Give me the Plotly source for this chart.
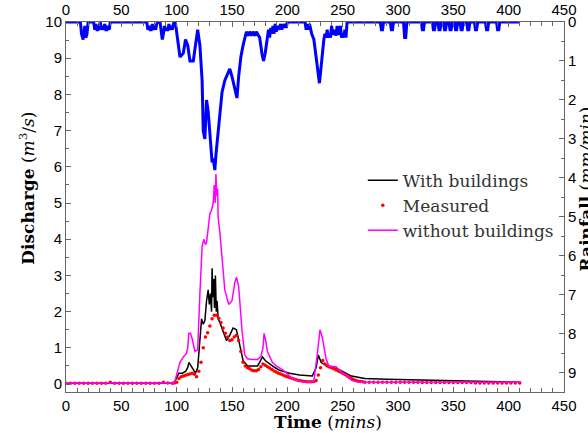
import plotly.graph_objects as go

# ---------------- data ----------------
# Rainfall hyetograph (mm/min), plotted on the reversed right axis
rain_t = [0, 13, 14, 15.5, 17, 18, 19, 20, 25, 26, 27, 28, 29, 30, 31, 32, 33, 34, 35, 36, 37, 38, 39, 40,
          73, 74, 75, 76, 77, 78, 79, 80, 81, 82, 83, 85, 86, 87, 88, 89, 90, 92, 93, 94, 95, 96, 97, 98,
          99, 101, 103, 106, 108, 110, 112, 115, 117, 119, 121, 123, 124, 125.5, 127, 128.5, 130, 132, 133,
          134.5, 135.5, 137, 139, 141, 143.5, 146, 148, 150, 152.5, 154.5, 156, 158, 160, 163, 165, 166, 168,
          169, 171, 172, 174, 175, 177, 178.5, 180, 182, 183, 184, 185, 186, 187, 188, 189, 190, 191, 192,
          194, 195, 196, 197, 198, 199, 200, 216, 217, 218, 219, 220, 222, 224, 226, 228, 229, 230, 231.5,
          233, 234, 235, 236, 237, 238, 239, 240, 241, 242, 243, 244, 245, 246, 247, 248, 249, 250, 251,
          252, 253, 254, 284, 285, 286, 287, 293, 294, 295, 296, 305, 306, 307, 308, 321, 322, 323, 324,
          331, 332, 333, 334, 336, 337, 338, 339, 341, 342, 343, 344, 346, 347, 348, 349, 351, 352, 353, 354,
          356, 357, 358, 359, 362, 363, 364, 365, 369, 370, 371, 372, 379, 380, 381, 382, 389, 390, 391, 392, 410]
rain_mm = [0, 0, 0.3, 0.45, 0.1, 0.4, 0.3, 0, 0, 0.2, 0.05, 0.2, 0.2, 0.05, 0, 0.2, 0.1, 0.2, 0.05, 0.2, 0.2, 0.1, 0.2, 0,
           0, 0.2, 0.1, 0.2, 0.2, 0.05, 0.2, 0.1, 0.2, 0.05, 0, 0, 0.2, 0.45, 0.3, 0.1, 0.2, 0.2, 0.05, 0.2, 0.1, 0.2, 0.05, 0,
           0.05, 0.5, 0.9, 0.8, 0.45, 0.6, 1.0, 1.0, 0.6, 0.2, 0.6, 1.5, 2.8, 3.0, 2.0, 2.3, 2.85, 3.6, 3.5,
           3.8, 3.4, 3.0, 2.3, 1.8, 1.5, 1.35, 1.2, 1.4, 1.7, 1.95, 1.4, 0.9, 0.6, 0.25, 0.35, 0.25, 0.35,
           0.25, 0.35, 0.25, 0.35, 0.4, 0.8, 1.0, 0.8, 0.3, 0.2, 0.4, 0.15, 0.3, 0.1, 0.3, 0.05, 0.25, 0.1, 0.2,
           0.05, 0.2, 0.05, 0.15, 0.05, 0.15, 0, 0, 0.2, 0.05, 0.2, 0.05, 0.3, 0.45, 0.9, 1.2, 1.57, 1.3, 0.8,
           0.45, 0.3, 0.4, 0.2, 0.4, 0.3, 0.4, 0.1, 0.3, 0.3, 0.2, 0.35, 0.1, 0.3, 0.3, 0.1, 0.4, 0.3, 0.4,
           0.2, 0.4, 0, 0, 0.2, 0.2, 0, 0, 0.2, 0.2, 0, 0, 0.4, 0.4, 0, 0, 0.2, 0.2, 0,
           0, 0.2, 0.2, 0, 0, 0.2, 0.2, 0, 0, 0.2, 0.2, 0, 0, 0.2, 0.2, 0, 0, 0.2, 0.2, 0,
           0, 0.2, 0.2, 0, 0, 0.2, 0.2, 0, 0, 0.2, 0.2, 0, 0, 0.2, 0.2, 0, 0, 0.2, 0.2, 0, 0]

# Simulated discharge with buildings (m3/s)
with_t = [0, 95, 98, 100, 102, 105, 108, 110, 111, 113, 115, 117, 119, 121, 122.5, 124, 125.5, 127, 128.5,
          129.5, 130.5, 131.5, 132, 132.8, 133.5, 134.2, 135, 135.8, 136.5, 137.5, 139, 142, 145, 148, 151,
          154, 157, 160, 164, 168, 173, 175, 177.5, 180, 184, 188, 193, 202, 211, 218, 222.5, 226, 228,
          230.5, 233, 237.5, 246.5, 258, 270, 290, 312, 340, 372, 411]
with_q = [0.02, 0.02, 0.05, 0.2, 0.3, 0.3, 0.35, 0.45, 0.6, 0.5, 0.4, 0.3, 0.45, 1.2, 1.8, 1.65, 1.75, 2.3, 2.6,
          2.2, 2.5, 2.0, 3.2, 2.4, 2.9, 2.1, 3.0, 2.0, 2.3, 1.8, 1.7, 1.45, 1.2, 1.35, 1.55,
          1.5, 1.1, 0.65, 0.5, 0.5, 0.5, 0.6, 0.75, 0.65, 0.55, 0.47, 0.38, 0.3, 0.25, 0.22, 0.22, 0.45, 0.8,
          0.6, 0.55, 0.5, 0.4, 0.22, 0.15, 0.13, 0.12, 0.1, 0.08, 0.05]

# Simulated discharge without buildings (m3/s)
without_t = [0, 97, 98.6, 101, 103, 106, 109, 110, 111, 112.5, 114, 116.5, 119, 121, 123, 124.5, 126, 127,
             128.5, 130, 131.5, 133, 134, 134.8, 135.5, 136.2, 137, 137.5, 139, 141, 143.5, 147, 150, 152.5,
             154, 156, 159, 161.5, 164, 168, 173, 176, 178, 179, 180.5, 182, 186.5, 190, 195.5, 200, 204.5,
             211, 216, 222, 224, 227, 229.5, 231.5, 233, 235, 237.5, 242, 244, 246.5, 250, 253, 258, 265,
             300, 350, 411]
without_q = [0.03, 0.03, 0.1, 0.4, 0.6, 0.75, 0.85, 1.0, 1.4, 1.4, 1.25, 0.9, 0.95, 2.5, 3.8, 4.0, 3.85, 3.9,
             4.4, 4.7, 4.8, 5.0, 5.5, 5.0, 5.8, 5.2, 5.4, 4.6, 4.2, 3.5, 2.6, 2.2, 2.3, 2.8,
             2.95, 2.7, 1.5, 0.8, 0.7, 0.68, 0.68, 0.75, 1.0, 1.4, 1.2, 0.9, 0.6, 0.5, 0.4, 0.28, 0.15,
             0.08, 0.05, 0.05, 0.1, 0.8, 1.5, 1.3, 1.0, 0.7, 0.5, 0.5, 0.48, 0.4, 0.3, 0.25, 0.1, 0.05,
             0.05, 0.05, 0.05]

# Measured discharge (m3/s)
meas_t = [0, 4, 8, 12, 16, 20, 24, 28, 32, 36, 40, 44, 48, 52, 56, 60, 64, 68, 72, 76, 80, 84, 88, 92,
          96, 98, 100, 102, 104, 106, 108, 110, 112, 114, 116, 118, 120, 122, 124, 126, 128, 130, 132, 134,
          136, 138, 140, 142, 144, 146, 148, 150, 152, 154, 156, 158, 160, 162, 164, 166, 168, 170, 172,
          174, 176, 178, 180, 182, 184, 186, 188, 190, 192, 194, 196, 198, 200, 202, 204, 206, 208, 210,
          212, 214, 216, 218, 220, 222, 224, 226, 228, 230, 232, 234, 236, 238, 240, 242, 244, 246, 248,
          250, 252, 254, 256, 258, 260, 262, 264, 266, 268, 270, 274, 278, 282, 286, 290, 294, 298, 302,
          306, 310, 314, 318, 322, 326, 330, 334, 338, 342, 346, 350, 354, 358, 362, 366, 370, 374, 378,
          382, 386, 390, 394, 398, 402, 406, 410]
meas_q = [0.02, 0.02, 0.02, 0.02, 0.02, 0.02, 0.02, 0.02, 0.02, 0.02, 0.05, 0.02, 0.02, 0.02, 0.02, 0.02,
          0.02, 0.02, 0.02, 0.02, 0.02, 0.02, 0.05, 0.03,
          0.02, 0.03, 0.05, 0.15, 0.2, 0.22, 0.24, 0.26, 0.28, 0.3, 0.27, 0.2, 0.35, 0.6, 1.0, 1.3, 1.42,
          1.6, 1.8, 1.9, 1.9, 1.82, 1.7, 1.55, 1.4, 1.3, 1.2, 1.22, 1.3, 1.35, 1.2, 0.9, 0.6, 0.5, 0.45,
          0.42, 0.38, 0.37, 0.37, 0.4, 0.48, 0.55, 0.52, 0.48, 0.44, 0.4, 0.36, 0.33, 0.3, 0.28, 0.25,
          0.22, 0.2, 0.18, 0.16, 0.14, 0.12, 0.1, 0.09, 0.08, 0.07, 0.06, 0.06, 0.06, 0.07, 0.1, 0.25,
          0.45, 0.65, 0.55, 0.5, 0.47, 0.45, 0.42, 0.39, 0.36, 0.33, 0.3, 0.26, 0.22, 0.18, 0.15, 0.12,
          0.1, 0.08, 0.07, 0.06, 0.05, 0.05, 0.05, 0.05, 0.05, 0.05, 0.05, 0.05, 0.05, 0.05, 0.05, 0.05,
          0.05, 0.04, 0.04, 0.04, 0.04, 0.04, 0.04, 0.04, 0.04, 0.04, 0.04, 0.04, 0.04, 0.03, 0.03,
          0.03, 0.03, 0.03, 0.03, 0.03, 0.03, 0.03, 0.03, 0.03]

x_ticks = [0, 50, 100, 150, 200, 250, 300, 350, 400, 450]

# ---------------- figure ----------------
fig = go.Figure()

fig.add_trace(go.Scatter(x=rain_t, y=rain_mm, mode="lines", line=dict(color="#0000ff", width=3),
                         xaxis="x2", yaxis="y2", showlegend=False, hoverinfo="skip"))
fig.add_trace(go.Scatter(x=with_t, y=with_q, mode="lines", name="With buildings", legendrank=1,
                         line=dict(color="#000000", width=1.5)))
fig.add_trace(go.Scatter(x=meas_t, y=meas_q, mode="markers", name="Measured", legendrank=2,
                         marker=dict(color="#ff0000", size=3.5, symbol="circle", line=dict(width=0))))
fig.add_trace(go.Scatter(x=without_t, y=without_q, mode="lines", name="without buildings", legendrank=3,
                         line=dict(color="#ff00ff", width=1.5)))

axis_line = "#666666"
tick_font = dict(family="Liberation Sans, Arial, sans-serif", size=15, color="#000000")
title_font = dict(family="DejaVu Serif, serif", size=17, color="#000000")

fig.update_layout(
    width=588, height=433,
    margin=dict(l=66, r=24, t=22, b=41),
    paper_bgcolor="white", plot_bgcolor="white",
    legend=dict(x=0.596, y=0.62, xanchor="left", yanchor="top",
                bgcolor="rgba(0,0,0,0)", borderwidth=0,
                font=dict(family="DejaVu Serif, serif", size=17, color="#333333")),
    xaxis=dict(range=[0, 450], tickvals=x_ticks, ticks="inside", ticklen=5, tickcolor=axis_line,
               minor=dict(dtick=10, ticklen=4, ticks="inside", tickcolor=axis_line),
               showline=True, linecolor=axis_line, linewidth=1, showgrid=False, zeroline=False,
               tickfont=tick_font, automargin=False),
    xaxis2=dict(range=[0, 450], tickvals=x_ticks, overlaying="x", side="top", anchor="y",
                ticks="inside", ticklen=5, tickcolor=axis_line,
                minor=dict(dtick=10, ticklen=4, ticks="inside", tickcolor=axis_line),
                showline=True, linecolor=axis_line, linewidth=1, showgrid=False, zeroline=False,
                tickfont=tick_font, automargin=False),
    yaxis=dict(range=[-0.22, 10], dtick=1, ticks="inside", ticklen=5, tickcolor=axis_line,
               minor=dict(dtick=0.5, ticklen=3, ticks="inside", tickcolor=axis_line),
               showline=True, linecolor=axis_line, linewidth=1, showgrid=False, zeroline=False,
               tickfont=tick_font, automargin=False),
    yaxis2=dict(range=[9.49, 0], dtick=1, overlaying="y", side="right", anchor="x",
                ticks="inside", ticklen=5, tickcolor=axis_line,
                minor=dict(dtick=0.5, ticklen=3, ticks="inside", tickcolor=axis_line),
                showline=True, linecolor=axis_line, linewidth=1, showgrid=False, zeroline=False,
                tickfont=tick_font, automargin=False),
    annotations=[
        dict(text="<b>Time</b> (<i>mins</i>)", xref="paper", yref="paper", x=0.526, y=-0.081,
             xanchor="center", yanchor="middle", showarrow=False, font=title_font),
        dict(text="<b>Discharge</b> (<i>m</i><sup>3</sup>/<i>s</i>)", xref="paper", yref="paper",
             x=-0.078, y=0.55, xanchor="center", yanchor="middle", textangle=-90,
             showarrow=False, font=title_font),
        dict(text="<b>Rainfall</b> (<i>mm/min</i>)", xref="paper", yref="paper",
             x=1.046, y=0.55, xanchor="center", yanchor="middle", textangle=-90,
             showarrow=False, font=title_font),
    ],
)

fig.write_html("out.html", config={"displayModeBar": False},
               post_script="document.body.style.margin='0';document.body.style.overflow='hidden';")
